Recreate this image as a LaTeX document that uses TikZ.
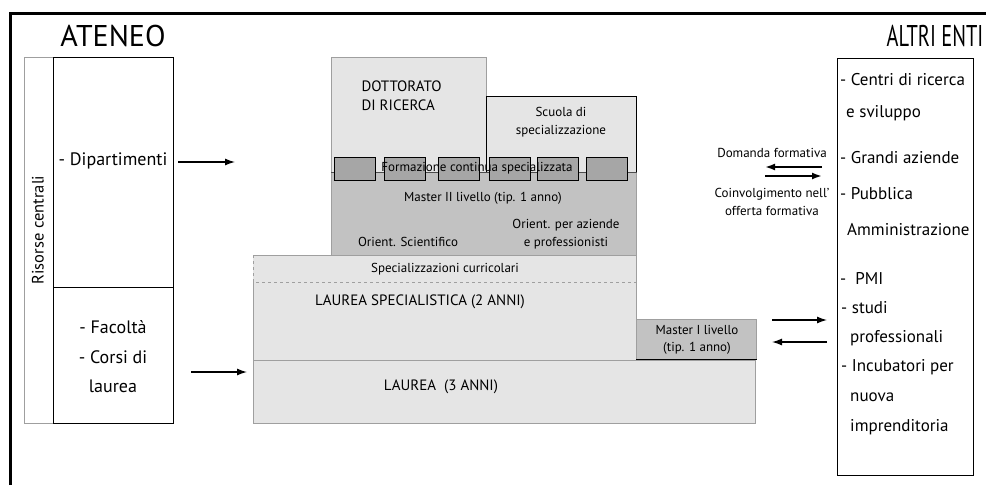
\documentclass[tikz,border=0pt]{standalone}
\usepackage{fontspec}
\setmainfont{PT Sans}
\usetikzlibrary{arrows.meta}

\definecolor{pale}{gray}{0.90}
\definecolor{mid}{gray}{0.76}
\definecolor{dark}{gray}{0.65}

\begin{document}
\begin{tikzpicture}[
        x=1pt, y=-1pt,
        >=Latex,
        title/.style={font=\fontsize{30}{32}\selectfont},
        unit/.style={draw, line width=1.2pt, anchor=north west, inner sep=0pt},
        layer/.style={draw=gray!75, line width=0.6pt, fill=pale, anchor=north west, inner sep=0pt},
        deep/.style={layer, fill=mid},
        chip/.style={draw, line width=1.2pt, fill=dark, minimum width=41, minimum height=23, inner sep=0pt},
        lbl/.style={font=\fontsize{13}{18.5}\selectfont, align=center},
        caplbl/.style={font=\fontsize{15}{19}\selectfont, align=center},
        item/.style={font=\fontsize{17}{20}\selectfont, anchor=west, inner sep=0pt},
        link/.style={->, line width=1.3pt, >={Latex[length=10pt,width=7pt]}}
    ]
        \useasboundingbox (0,0) rectangle (986,485);
        \draw[line width=3pt] (10,485) -- (10,13) -- (986,13);

        % ateneo
        \node[title] (ateneo) at (113,36) {ATENEO};
        \node[draw=gray!75, line width=0.6pt, anchor=north west, inner sep=0pt, minimum width=29, minimum height=366] (ris) at (24,57) {};
        \node[rotate=90, font=\fontsize{16.5}{18}\selectfont] (rislbl) at (38,230) {Risorse centrali};
        \node[unit, minimum width=120, minimum height=230] (dip) at (53,57) {};
        \node[unit, minimum width=120, minimum height=136] (fac) at (53,287) {};
        \node[font=\fontsize{18}{20}\selectfont] (diplbl) at (113,161) {- Dipartimenti};
        \node[font=\fontsize{18}{29.5}\selectfont, align=center] (faclbl) at (113,357) {- Facoltà\\- Corsi di\\laurea};

        % livelli
        \node[layer, minimum width=155, minimum height=115] (dott) at (331,57) {};
        \node[caplbl, align=left, anchor=north west] (dottlbl) at (358,77) {DOTTORATO\\DI RICERCA};
        \node[unit, fill=pale, minimum width=150, minimum height=76] (scuola) at (486,96) {};
        \node[lbl] (scuolalbl) at (561,122) {Scuola di\\specializzazione};
        \node[deep, minimum width=305, minimum height=83] (m2) at (331,172) {};
        \draw[gray!60!black, line width=0.8pt] (m2.north west) -- (m2.north east);
        \foreach \x [count=\i] in {355,405,459,510,558,607}
            \node[chip] (sq\i) at (\x,169) {};
        \node[lbl] (fcs) at (477,168) {Formazione continua specializzata};
        \node[lbl] (m2lbl) at (483,198) {Master II livello (tip. 1 anno)};
        \node[lbl] (scient) at (408,242) {Orient. Scientifico};
        \node[lbl] (aziende) at (566,234) {Orient. per aziende\\e professionisti};

        \node[layer, draw=none, minimum width=383, minimum height=105] (lspec) at (253,255) {};
        \coordinate (cut) at (253,282);
        \draw[gray!75, line width=0.6pt] (cut) -- (lspec.south west) -- (lspec.south east) -- (lspec.north east) -- (lspec.north west);
        \draw[gray!75, line width=0.6pt, dashed] (lspec.north west) -- (cut) -- (cut -| lspec.east);
        \node[lbl] (curr) at (445,269) {Specializzazioni curricolari};
        \node[caplbl] (lspeclbl) at (420,302) {LAUREA SPECIALISTICA (2 ANNI)};

        \node[deep, minimum width=120, minimum height=40] (m1) at (636,319) {};
        \node[lbl, font=\fontsize{13}{17}\selectfont] (m1lbl) at (697,340) {Master I livello\\(tip. 1 anno)};
        \node[layer, minimum width=502, minimum height=63] (laurea) at (253,360) {};
        \draw[line width=0.8pt] (m1.south west) -- (m1.south east);
        \node[caplbl] (laurealbl) at (441,387) {LAUREA \ (3 ANNI)};

        % altri enti
        \node[title] (altri) at (935,36) {\scalebox{0.68}[1]{ALTRI ENTI}};
        \node[unit, minimum width=136, minimum height=417] (enti) at (837,58) {};
        \foreach \dx/\y/\t [count=\i] in {0/80/{- Centri di ricerca}, 6/113/{e sviluppo}, 0/158/{- Grandi aziende}, 0/194/{- Pubblica}, 7/230/{Amministrazione},
                0/278/{- \ PMI}, 1/308/{- studi}, 10/338/{professionali}, 1/367/{- Incubatori per}, 10/397/{nuova}, 10/427/{imprenditoria}}
            \node[item] (ent\i) at (840+\dx,\y) {\t};

        % scambi
        \node[lbl] (domanda) at (772,153) {Domanda formativa};
        \node[lbl] (coinv) at (772,202) {Coinvolgimento nell'\\offerta formativa};
        \coordinate (dA) at (822,167);
        \coordinate (dB) at (765,167);
        \coordinate (cA) at (765,176);
        \coordinate (cB) at (822,176);
        \draw[link, line width=1.8pt] (dA) -- (dB);
        \draw[link, line width=1.8pt] (cA) -- (cB);
        \coordinate (oA) at (772,320);
        \coordinate (oB) at (827,320);
        \coordinate (iA) at (827,342);
        \coordinate (iB) at (772,342);
        \draw[link] (oA) -- (oB);
        \draw[link] (iA) -- (iB);

        \coordinate (dipA) at (178,162);
        \coordinate (dipB) at (235,162);
        \coordinate (facA) at (191,372);
        \coordinate (facB) at (247,372);
        \draw[link] (dipA) -- (dipB);
        \draw[link] (facA) -- (facB);
    \end{tikzpicture}
\end{document}
